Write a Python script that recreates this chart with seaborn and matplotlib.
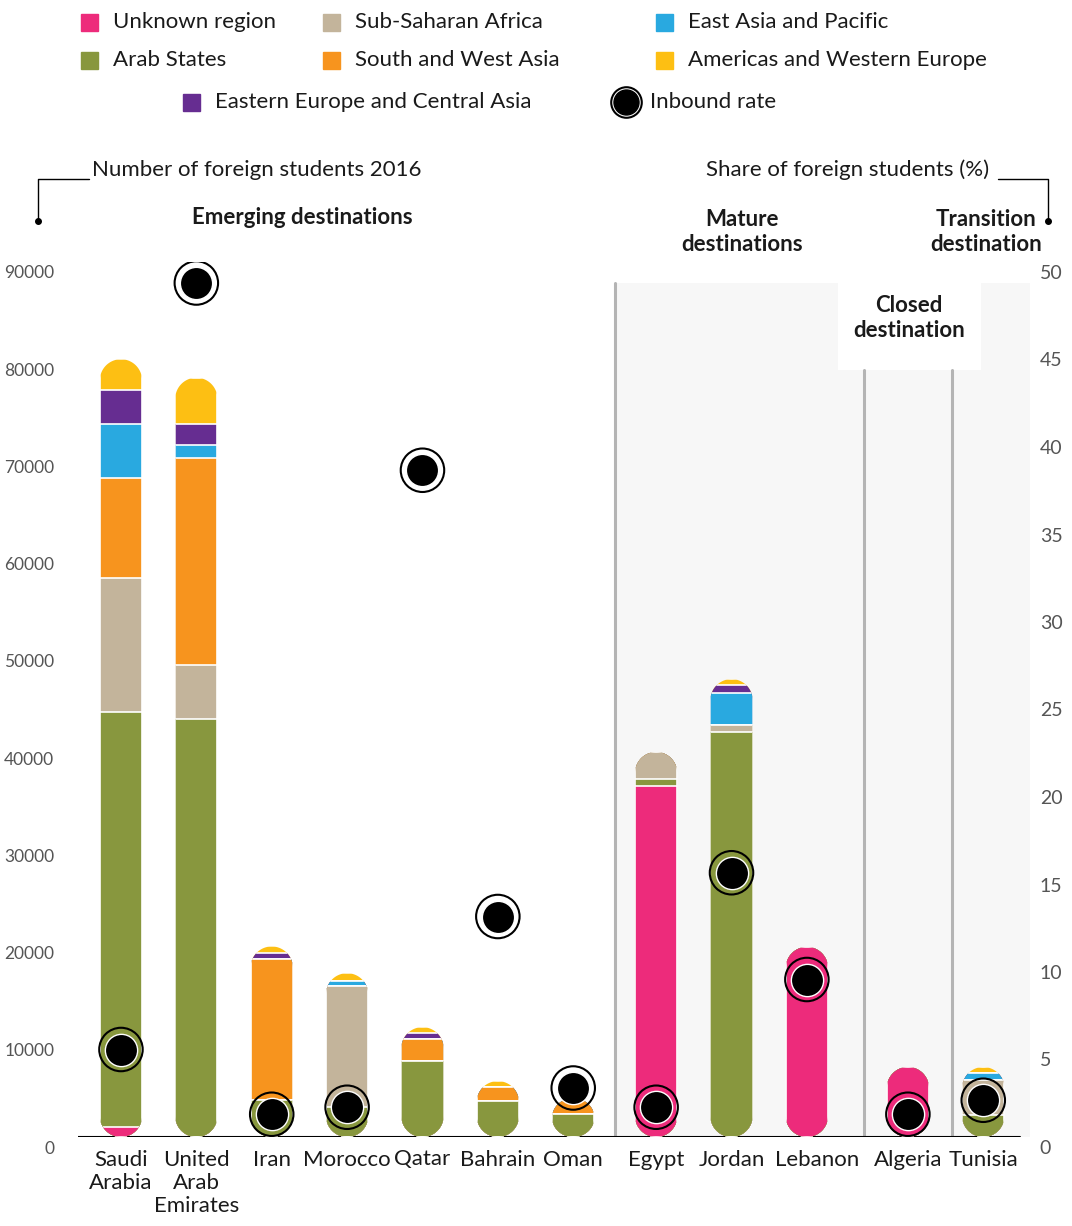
import numpy as np
import matplotlib
matplotlib.use('Agg')
import matplotlib.pyplot as plt
import seaborn as sns
from matplotlib.patches import Polygon, Rectangle
from matplotlib.lines import Line2D
from matplotlib import transforms

# data
countries = ['Saudi\nArabia', 'United\nArab\nEmirates', 'Iran', 'Morocco', 'Qatar', 'Bahrain',
             'Oman', 'Egypt', 'Jordan', 'Lebanon', 'Algeria', 'Tunisia']
groups = ['Emerging'] * 7 + ['Mature'] * 3 + ['Closed', 'Transition']

unknown = [1000, 0, 0, 0, 0, 0, 0, 36100, 0, 19550, 7200, 0]
arab_states = [42700, 43000, 3800, 3100, 7800, 3700, 2400, 700, 41700, 0, 0, 2250]
sub_saharan = [13800, 5550, 0, 12450, 0, 0, 0, 2800, 700, 0, 0, 3600]
south_west_asia = [10300, 21300, 14500, 0, 2250, 1450, 1600, 0, 0, 0, 0, 0]
east_asia_pacific = [5550, 1350, 0, 500, 0, 0, 0, 0, 3300, 0, 0, 700]
east_europe_central_asia = [3500, 2150, 600, 0, 600, 0, 0, 0, 800, 0, 0, 0]
americas_west_europe = [3150, 4750, 700, 800, 650, 600, 0, 0, 600, 0, 0, 650]

inbound_rate = [5.0, 48.8, 1.3, 1.7, 38.1, 12.6, 2.8, 1.7, 15.1, 9.0, 1.3, 2.1]

region_names = ['Unknown region', 'Arab States', 'Sub-Saharan Africa', 'South and West Asia',
                'East Asia and Pacific', 'Eastern Europe and Central Asia',
                'Americas and Western Europe']
region_colors = ['#ED2B7B', '#88973E', '#C3B49B', '#F7941E', '#29A9E0', '#662D91', '#FDBF13']
layers = [unknown, arab_states, sub_saharan, south_west_asia, east_asia_pacific,
          east_europe_central_asia, americas_west_europe]

sns.set_theme(style='white')
plt.rcParams['font.family'] = ['Lato', 'DejaVu Sans']
txt = '#1a1a1a'

W, H = 1072, 1226
fig = plt.figure(figsize=(W / 100, H / 100), dpi=100)


def fx(px):
    return px / W


def fy(py):
    return 1 - py / H


ax = fig.add_axes([fx(78), fy(1137), (1030 - 78) / W, (1137 - 262) / H])
ax.set_facecolor('none')

# one step per country, a little extra room between the destination groups
group_gap = {'Emerging': 0.0, 'Mature': 0.1, 'Closed': 0.44, 'Transition': 0.44}
pos = np.arange(len(countries), dtype=float) + np.array([group_gap[g] for g in groups])

stack = np.cumsum(layers, axis=0)
totals = stack[-1]
bar_w = 0.56

# stacked bars: draw the cumulative totals from the top layer down
for i in range(len(layers) - 1, -1, -1):
    sns.barplot(x=pos, y=stack[i], native_scale=True, orient='x', width=bar_w,
                color=region_colors[i], saturation=1, edgecolor='white', linewidth=1.2,
                errorbar=None, ax=ax, zorder=3)
bars = list(ax.patches)

xlim = (-0.57, 12.06)
ax.set_xlim(*xlim)
ax.set_ylim(0, 90000)

# group panels and separators
b1 = (pos[6] + pos[7]) / 2
b2 = pos[10] - 0.58
b3 = pos[10] + 0.58
panel_top = (1137 - 283) / 875
closed_top = (1137 - 370) / 875
bg = '#F7F7F7'
ax.axvspan(b1, pos[10] - 0.93, 0, panel_top, color=bg, lw=0, zorder=0)
ax.axvspan(pos[10] - 0.93, pos[10] + 0.97, 0, closed_top, color=bg, lw=0, zorder=0)
ax.axvspan(pos[10] + 0.97, xlim[1], 0, panel_top, color=bg, lw=0, zorder=0)
ax.axvline(b1, 0, panel_top, color='#B4B4B4', lw=2.2, zorder=1)
ax.axvline(b2, 0, closed_top, color='#B4B4B4', lw=2.2, zorder=1)
ax.axvline(b3, 0, closed_top, color='#B4B4B4', lw=2.2, zorder=1)
ax.axhline(0, 0, (1020 - 78) / 952, color='black', lw=1.5, zorder=2)

# rounded (pill-shaped) bars: clip every segment to the outline of its column
p0 = ax.transData.transform((0, 0))
p1 = ax.transData.transform((1, 1))
sx, sy = p1[0] - p0[0], p1[1] - p0[1]


def pill(xc, top, w):
    r_px = min(w * sx / 2, top * sy / 2)
    rx, ry = w / 2, r_px / sy
    t = np.linspace(0, np.pi, 40)
    upper = np.column_stack([xc + rx * np.cos(t), top - ry + ry * np.sin(t)])
    t2 = np.linspace(np.pi, 2 * np.pi, 40)
    lower = np.column_stack([xc + rx * np.cos(t2), ry + ry * np.sin(t2)])
    return Polygon(np.vstack([upper, lower]), closed=True, transform=ax.transData)


clips = [pill(pos[i], totals[i], bar_w) for i in range(len(pos))]
for p in bars:
    xc = p.get_x() + p.get_width() / 2
    i = int(np.argmin(np.abs(pos - xc)))
    p.set_clip_path(clips[i])

ax.set_xticks(pos, countries)
ax.tick_params(axis='x', length=0, pad=9, labelsize=16, labelcolor=txt)
for lbl in ax.get_xticklabels():
    lbl.set_linespacing(1.2)
    lbl.set_verticalalignment('top')
    if lbl.get_text() == 'Lebanon':
        # nudged right in the original so it clears "Jordan"
        lbl.set_transform(lbl.get_transform() +
                          transforms.ScaledTranslation(0.1, 0, fig.dpi_scale_trans))

ax.set_yticks(np.arange(0, 90001, 10000))
ax.set_yticklabels([str(v) for v in range(0, 90001, 10000)])
ax.tick_params(axis='y', length=0, pad=17, labelsize=12.5, labelcolor='#555555')
shift = transforms.ScaledTranslation(0, -0.1, fig.dpi_scale_trans)
for lbl in ax.get_yticklabels():
    lbl.set_transform(lbl.get_transform() + shift)
ax.set_xlabel('')
ax.set_ylabel('')
sns.despine(ax=ax, left=True, bottom=True)

# inbound rate on the right axis
ax2 = ax.twinx()
sns.scatterplot(x=pos, y=inbound_rate, s=540, color='black', edgecolor='white', linewidth=1,
                legend=False, ax=ax2, zorder=4)
ax2.scatter(pos, inbound_rate, s=980, facecolors='none', edgecolors='black', linewidths=1.5,
            zorder=5)
ax2.set_ylim(0, 50)
ax2.set_xlim(*xlim)
ax.set_xlim(*xlim)
ax2.set_yticks(np.arange(0, 51, 5))
ax2.tick_params(axis='y', length=0, pad=7, labelsize=14, labelcolor='#555555')
for lbl in ax2.get_yticklabels():
    lbl.set_transform(lbl.get_transform() + shift)
ax2.set_ylabel('')
for s in ax2.spines.values():
    s.set_visible(False)

# axis headers with bracket leaders
fig.text(fx(92), fy(170), 'Number of foreign students 2016', ha='left', va='center',
         fontsize=16, color=txt)
fig.add_artist(Line2D([fx(38), fx(38), fx(89)], [fy(221), fy(179), fy(179)],
                      color='black', lw=1))
fig.add_artist(Line2D([fx(38)], [fy(221)], marker='o', ms=4, color='black'))
fig.text(fx(989), fy(170), 'Share of foreign students (%)', ha='right', va='center',
         fontsize=16, color=txt)
fig.add_artist(Line2D([fx(998), fx(1048), fx(1048)], [fy(179), fy(179), fy(221)],
                      color='black', lw=1))
fig.add_artist(Line2D([fx(1048)], [fy(221)], marker='o', ms=4, color='black'))

fig.text(fx(302), fy(217), 'Emerging destinations', ha='center', va='center',
         fontsize=16, fontweight='bold', color=txt)
fig.text(fx(742), fy(232), 'Mature\ndestinations', ha='center', va='center',
         fontsize=16, fontweight='bold', color=txt, linespacing=1.25)
fig.text(fx(986), fy(232), 'Transition\ndestination', ha='center', va='center',
         fontsize=16, fontweight='bold', color=txt, linespacing=1.25)
fig.text(fx(909), fy(318), 'Closed\ndestination', ha='center', va='center',
         fontsize=16, fontweight='bold', color=txt, linespacing=1.25)

# legend
legend_slots = [(81, 22), (81, 60), (323, 22), (323, 60), (656, 22), (183, 102), (656, 60)]
for (lx, ly), name, col in zip(legend_slots, region_names, region_colors):
    fig.add_artist(Rectangle((fx(lx), fy(ly + 8.5)), 17 / W, 17 / H, color=col,
                             transform=fig.transFigure))
    fig.text(fx(lx + 32), fy(ly), name, ha='left', va='center', fontsize=16, color=txt)
fig.add_artist(Line2D([fx(626)], [fy(102)], marker='o', ms=22, mfc='none', mec='black',
                      mew=1.5, ls=''))
fig.add_artist(Line2D([fx(626)], [fy(102)], marker='o', ms=18, mfc='black', mec='black',
                      ls=''))
fig.text(fx(650), fy(102), 'Inbound rate', ha='left', va='center', fontsize=16, color=txt)

fig.savefig('out.png', dpi=100)
